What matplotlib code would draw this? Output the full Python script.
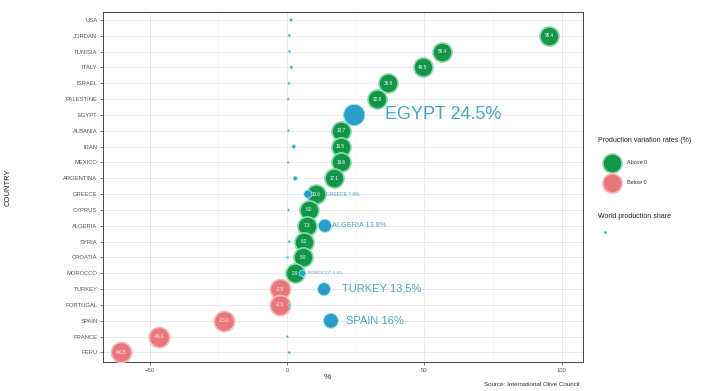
import numpy as np
import matplotlib
matplotlib.use("Agg")
import matplotlib.pyplot as plt

plt.rcParams['font.family'] = ['Liberation Sans', 'DejaVu Sans']

# Countries from top to bottom
countries = ["USA", "JORDAN", "TUNISIA", "ITALY", "ISRAEL", "PALESTINE", "EGYPT",
             "ALBANIA", "IRAN", "MEXICO", "ARGENTINA", "GREECE", "CYPRUS", "ALGERIA",
             "SYRIA", "CROATIA", "MOROCCO", "TURKEY", "PORTUGAL", "SPAIN", "FRANCE", "PERU"]
# Production variation rate (%)
variation = [np.nan, 95.4, 56.4, 49.5, 36.8, 32.8, 24.0,
             19.7, 19.5, 19.6, 17.1, 10.6, 8.0, 7.3,
             6.2, 5.8, 2.9, -2.5, -2.5, -23.0, -46.6, -60.5]
# Share of world production (%)
world_share = [1.5, 0.8, 0.9, 1.6, 0.7, 0.4, 24.5,
               0.5, 2.5, 0.4, 3.0, 7.6, 0.5, 13.8,
               0.8, 0.2, 5.6, 13.5, 0.8, 16.0, 0.1, 0.8]
# Countries whose world share is written next to the point
labelled = ["EGYPT", "SPAIN", "TURKEY", "ALGERIA", "GREECE", "MOROCCO"]
x_ticks = [-50, 0, 50, 100]
x_minor = [-25, 25, 75]

GREEN = "#14964a"
RED = "#e8767a"
TEAL = "#2a9ec6"
TEXT_TEAL = "#46a6c9"

fig = plt.figure(figsize=(7.19, 3.91), dpi=100)
W, H = 719, 391
ax = fig.add_axes([103 / W, 1 - 362 / H, (583 - 103) / W, (362 - 12) / H])

n = len(countries)
ypos = np.arange(n)[::-1] + 1  # USA at top
var = np.array(variation, dtype=float)
share = np.array(world_share, dtype=float)

# grid and ticks (limits set after ticks so they are not widened)
ax.set_xticks(x_ticks)
ax.set_xticks(x_minor, minor=True)
ax.set_yticks(ypos)
ax.set_yticklabels(countries)
ax.set_xlim(-67, 107.8)
ax.set_ylim(0.4, n + 0.5)
ax.grid(True, which="major", color="#e6e6e6", lw=0.6, zorder=0)
ax.grid(True, which="minor", axis="x", color="#f2f2f2", lw=0.4, zorder=0)
ax.set_axisbelow(True)
for s in ax.spines.values():
    s.set_color("#444444")
    s.set_linewidth(0.7)
ax.tick_params(axis="both", which="major", labelsize=4.2, colors="#444444",
               length=2.5, width=0.5, pad=1.5)
ax.tick_params(axis="x", which="minor", length=0)
for lab in ax.get_xticklabels() + ax.get_yticklabels():
    lab.set_color("#555555")

# production variation bubbles
pos = var >= 0
neg = var < 0
ax.scatter(var[pos], ypos[pos], s=190, color=GREEN, edgecolor="#8fdcaa",
           linewidth=1.2, zorder=3)
ax.scatter(var[neg], ypos[neg], s=210, color=RED, edgecolor="#f6b7b9",
           linewidth=1.2, zorder=3)
for v, y in zip(var, ypos):
    if np.isnan(v):
        continue
    ax.text(v, y, f"{v:.1f}", ha="center", va="center", color="white",
            fontsize=3.3, zorder=4)

# world production share points
sizes = 2.5 + share ** 1.7
ax.scatter(share, ypos, s=sizes, color=TEAL, edgecolor="#9fe3f2",
           linewidth=0.6, zorder=5)

label_style = {
    "EGYPT": (13, 22),
    "SPAIN": (8, 11),
    "TURKEY": (8, 13),
    "ALGERIA": (5.3, 5),
    "GREECE": (3.6, 13),
    "MOROCCO": (3.2, 4),
}
for c, sh, y in zip(countries, share, ypos):
    if c in label_style:
        fs, off = label_style[c]
        ax.annotate(f"{c} {sh:g}%", (sh, y), xytext=(off, 0),
                    textcoords="offset points", ha="left", va="center",
                    fontsize=fs, color=TEXT_TEAL, zorder=6)

ax.set_xlabel("%", fontsize=6, color="#222222")
ax.xaxis.set_label_coords((327 - 103) / (583 - 103), -0.035)
ax.set_ylabel("COUNTRY", fontsize=5.5, color="#222222")
ax.yaxis.set_label_coords(-0.19, 0.5)

# legend
lg = fig.add_axes([0, 0, 1, 1], zorder=10)
lg.set_xlim(0, W)
lg.set_ylim(H, 0)
lg.axis("off")
lg.text(598, 140, "Production variation rates (%)", fontsize=5, color="#222222",
        ha="left", va="center")
lg.scatter([612], [163], s=190, color=GREEN, edgecolor="#8fdcaa", linewidth=1.2)
lg.text(627, 163, "Above 0", fontsize=4, color="#333333", ha="left", va="center")
lg.scatter([612], [183], s=190, color=RED, edgecolor="#f6b7b9", linewidth=1.2)
lg.text(627, 183, "Below 0", fontsize=4, color="#333333", ha="left", va="center")
lg.text(598, 217, "World production share", fontsize=5, color="#222222",
        ha="left", va="center")
lg.scatter([605], [232], s=4, color=TEAL, edgecolor="#9fe3f2", linewidth=0.5)

fig.text(580 / W, 1 - 385 / H, "Source: International Olive Council",
         fontsize=4.5, color="#333333", ha="right", va="center")

fig.savefig("out.png", dpi=100)
